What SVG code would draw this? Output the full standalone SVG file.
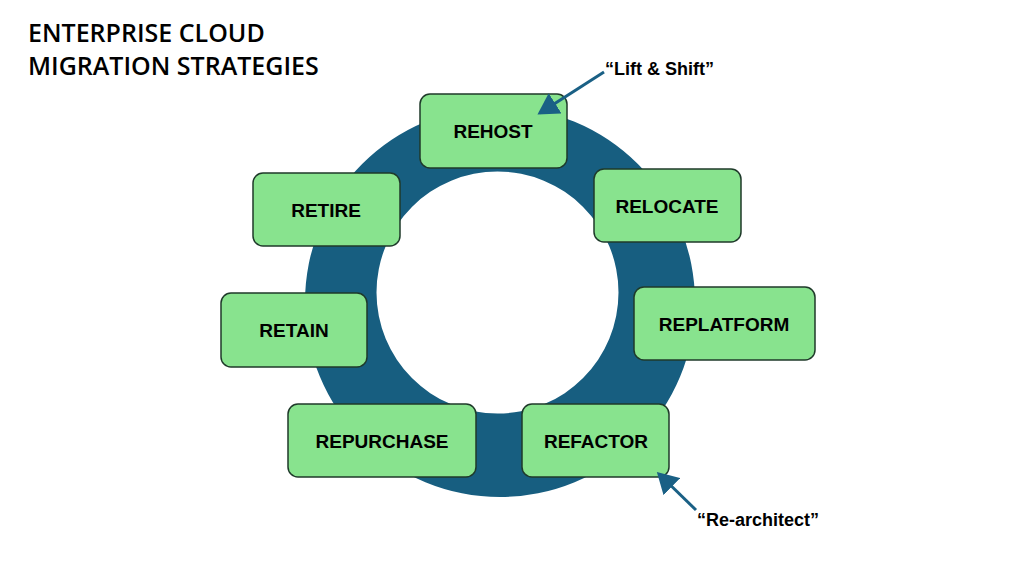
<svg xmlns="http://www.w3.org/2000/svg" width="1024" height="576" viewBox="0 0 1024 576">
<style>
.box{fill:#88e38e;stroke:#1f3a2a;stroke-width:1.5}
.lbl{font-family:"Liberation Sans",Arial,sans-serif;font-weight:bold;font-size:19px;fill:#000;text-anchor:middle;dominant-baseline:central}
.title{font-family:"Open Sans","Liberation Sans",sans-serif;font-weight:600;font-size:25px;fill:#000}
.note{font-family:"Liberation Sans",Arial,sans-serif;font-weight:bold;font-size:18px;fill:#000}
.arr{stroke:#1a6085;stroke-width:3;fill:none;marker-end:url(#ah)}
</style>
<defs>
<marker id="ah" markerWidth="8" markerHeight="8" refX="6" refY="4" orient="auto" markerUnits="strokeWidth"><path d="M0,0 L7,4 L0,8 z" fill="#1a6085"/></marker>
</defs>
<rect width="1024" height="576" fill="#fff"/>
<text class="title" x="28" y="42">ENTERPRISE CLOUD</text>
<text class="title" x="28" y="75">MIGRATION STRATEGIES</text>
<g id="ring">
<path d="M305,302 a195,195 0 1,0 390,0 a195,195 0 1,0 -390,0 Z M376.5,292.5 a121,121 0 1,1 242,0 a121,121 0 1,1 -242,0 Z" fill="#175e80" fill-rule="evenodd"/>
</g>
<g id="rehost"><rect class="box" x="420" y="94" width="147" height="74" rx="10"/><text class="lbl" x="493" y="131">REHOST</text></g>
<g id="retire"><rect class="box" x="253" y="173" width="147" height="73" rx="10"/><text class="lbl" x="326" y="210">RETIRE</text></g>
<g id="relocate"><rect class="box" x="594" y="169" width="147" height="73" rx="10"/><text class="lbl" x="667" y="206">RELOCATE</text></g>
<g id="retain"><rect class="box" x="221" y="293" width="146" height="74" rx="10"/><text class="lbl" x="294" y="330">RETAIN</text></g>
<g id="replatform"><rect class="box" x="634" y="287" width="181" height="73" rx="10"/><text class="lbl" x="724" y="324">REPLATFORM</text></g>
<g id="repurchase"><rect class="box" x="288" y="404" width="188" height="73" rx="10"/><text class="lbl" x="382" y="441">REPURCHASE</text></g>
<g id="refactor"><rect class="box" x="522" y="404" width="147" height="73" rx="10"/><text class="lbl" x="596" y="441">REFACTOR</text></g>
<g id="connectors">
<line class="arr" x1="604" y1="72" x2="540" y2="113"/>
<line class="arr" x1="696" y1="510" x2="659" y2="474"/>
</g>
<g id="notes">
<text class="note" x="605" y="75">“Lift &amp; Shift”</text>
<text class="note" x="697" y="526">“Re-architect”</text>
</g>
</svg>
